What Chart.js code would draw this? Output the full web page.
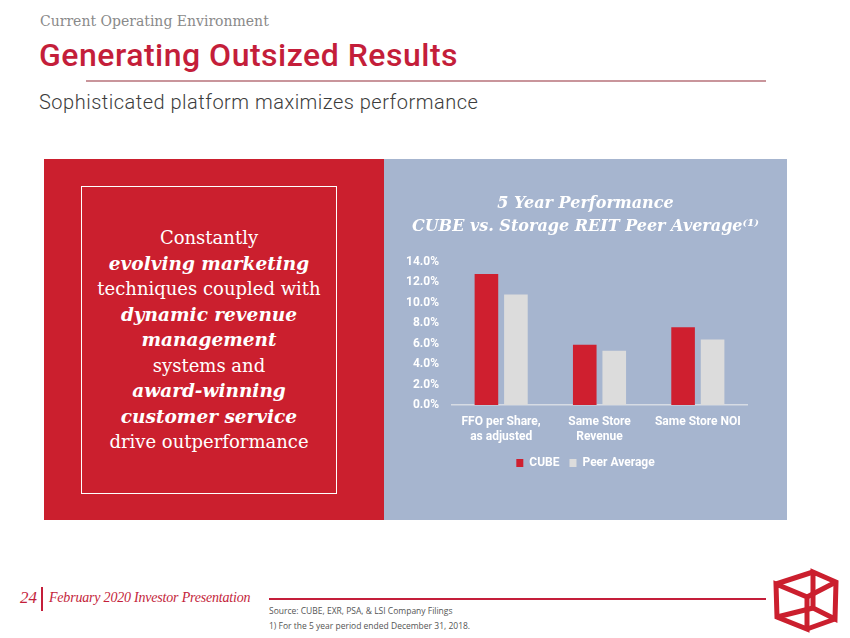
<!DOCTYPE html>
<html>
<head>
<meta charset="utf-8">
<script src="https://cdn.jsdelivr.net/npm/chart.js@4.4.1/dist/chart.umd.min.js"></script>
<style>
  html, body { margin: 0; padding: 0; background: #ffffff; }
  body { width: 850px; height: 638px; position: relative; overflow: hidden; }
  .abs { position: absolute; white-space: nowrap; }
  #kicker { left: 40px; top: 13px; font-family: "DejaVu Serif", serif; font-size: 14px; color: #8a8a8a; }
  #title { left: 39px; top: 36px; font-family: Roboto, sans-serif; font-weight: 500; font-size: 32px; color: #c41e3a; letter-spacing: 0.5px; }
  #hline { left: 86px; top: 80px; width: 680px; height: 2px; background: #c9959b; }
  #subtitle { left: 39px; top: 90px; font-family: Roboto, sans-serif; font-weight: 300; font-size: 20px; color: #3c3c3c; letter-spacing: 0.5px; }
  #redpanel { left: 44px; top: 159px; width: 340px; height: 361px; background: #cb1f2e; }
  #bluepanel { left: 384px; top: 159px; width: 403px; height: 361px; background: #a6b5cf; }
  #box { left: 81px; top: 186px; width: 254px; height: 306px; border: 1.5px solid #ffffff; }
  #boxtext { left: 81px; top: 225px; width: 256px; text-align: center; font-family: "DejaVu Serif", serif; font-size: 18px; line-height: 25.5px; color: #ffffff; white-space: normal; }
  #boxtext b { font-style: italic; font-weight: bold; font-size: 18.5px; }
  #chartwrap { left: 384px; top: 159px; width: 403px; height: 361px; }
  #pgnum { left: 20px; top: 588px; font-family: "Liberation Serif", serif; font-style: italic; font-size: 17px; color: #c41e3a; }
  #vbar { left: 41px; top: 587px; width: 2px; height: 24px; background: #c41e3a; }
  #pres { left: 49px; top: 590px; font-family: "Liberation Serif", serif; font-style: italic; font-size: 14px; letter-spacing: -0.2px; color: #c41e3a; }
  #fline { left: 269px; top: 598px; width: 497px; height: 2px; background: #c41e3a; }
  #src { left: 269px; top: 603px; font-family: "Open Sans", sans-serif; font-size: 8.5px; line-height: 15px; color: #555555; }
  #logo { left: 768px; top: 566px; }
</style>
</head>
<body>
<div class="abs" id="kicker">Current Operating Environment</div>
<div class="abs" id="title">Generating Outsized Results</div>
<div class="abs" id="hline"></div>
<div class="abs" id="subtitle">Sophisticated platform maximizes performance</div>
<div class="abs" id="redpanel"></div>
<div class="abs" id="bluepanel"></div>
<div class="abs" id="box"></div>
<div class="abs" id="boxtext">Constantly<br><b>evolving marketing</b><br>techniques coupled with<br><b>dynamic revenue</b><br><b>management</b><br>systems and<br><b>award-winning</b><br><b>customer service</b><br>drive outperformance</div>
<div class="abs" id="chartwrap"><canvas id="c" width="403" height="361"></canvas></div>
<div class="abs" id="pgnum">24</div>
<div class="abs" id="vbar"></div>
<div class="abs" id="pres">February 2020 Investor Presentation</div>
<div class="abs" id="fline"></div>
<div class="abs" id="src">Source: CUBE, EXR, PSA, &amp; LSI Company Filings<br>1) For the 5 year period ended December 31, 2018.</div>
<svg class="abs" id="logo" width="76" height="70" viewBox="768 566 76 70">
  <g fill="none" stroke="#cb1f2e" stroke-width="5" stroke-linejoin="miter">
    <polygon points="776,584 807,597 807,629 777,617"/>
    <polygon points="813,572 836,582 835,619 813,608"/>
    <line x1="776" y1="584" x2="813" y2="572"/>
    <line x1="807" y1="597" x2="836" y2="582"/>
    <line x1="807" y1="629" x2="835" y2="619"/>
    <line x1="777" y1="617" x2="813" y2="608"/>
  </g>
</svg>
<script>
const categories = [["FFO per Share,", "as adjusted"], ["Same Store", "Revenue"], "Same Store NOI"];
const cubeValues = [12.8, 5.9, 7.6];
const peerValues = [10.8, 5.3, 6.4];
const seriesNames = ["CUBE", "Peer Average"];
const chartTitle = ["5 Year Performance", "CUBE vs. Storage REIT Peer Average\u207D\u00B9\u207E"];

const labelFont = { family: "Roboto, sans-serif", size: 12, weight: "bold" };

new Chart(document.getElementById("c"), {
  type: "bar",
  data: {
    labels: categories,
    datasets: [
      { label: seriesNames[0], data: cubeValues, backgroundColor: "#cf1f2f", categoryPercentage: 0.6, barPercentage: 0.8 },
      { label: seriesNames[1], data: peerValues, backgroundColor: "#dcdcdc", categoryPercentage: 0.6, barPercentage: 0.8 }
    ]
  },
  options: {
    responsive: false,
    animation: false,
    layout: { padding: { left: 0, right: 0, top: 0, bottom: 41 } },
    plugins: {
      title: {
        display: true,
        text: chartTitle,
        color: "#ffffff",
        font: { family: "DejaVu Serif, serif", size: 16, weight: "bold", style: "italic", lineHeight: 1.4 },
        padding: { top: 34, bottom: 24 }
      },
      legend: {
        position: "bottom",
        labels: { color: "#ffffff", font: labelFont, boxWidth: 7, boxHeight: 8, padding: 10 }
      },
      tooltip: { enabled: false }
    },
    scales: {
      x: {
        afterFit: (s) => { s.height = 42; },
        grid: { display: false },
        border: { display: true, color: "#d6dbe4", width: 1.5 },
        ticks: { color: "#ffffff", font: labelFont, padding: 2, maxRotation: 0 }
      },
      y: {
        min: 0, max: 14,
        afterFit: (s) => { s.width = 68; },
        grid: { display: false, drawTicks: false },
        border: { display: false },
        ticks: { stepSize: 2, color: "#ffffff", font: labelFont, padding: 13,
          callback: (v) => v.toFixed(1) + "%" }
      },
      yRight: {
        position: "right",
        display: true,
        afterFit: (s) => { s.width = 40; },
        grid: { display: false, drawTicks: false },
        border: { display: false },
        ticks: { display: false }
      }
    }
  }
});
</script>
</body>
</html>
